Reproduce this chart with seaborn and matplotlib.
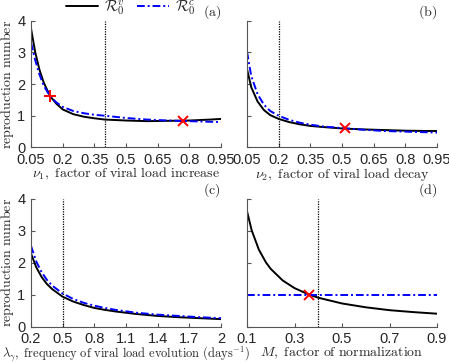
import matplotlib
matplotlib.use("Agg")
import matplotlib.pyplot as plt
import seaborn as sns
from matplotlib.lines import Line2D

sns.set_style("ticks")
plt.rcParams["font.family"] = ["Liberation Sans", "DejaVu Sans"]
plt.rcParams["mathtext.fontset"] = "cm"

# (a) nu1, factor of viral load increase
nu1 = [0.05, 0.07, 0.09, 0.11, 0.14, 0.17, 0.2, 0.25, 0.3, 0.35, 0.4, 0.5, 0.6, 0.7, 0.8, 0.9, 0.95]
a_v = [3.75, 3.0, 2.45, 2.05, 1.62, 1.38, 1.2, 1.05, 0.97, 0.92, 0.88, 0.85, 0.83, 0.84, 0.85, 0.88, 0.9]
a_c = [3.3, 2.75, 2.3, 1.95, 1.62, 1.42, 1.28, 1.15, 1.08, 1.03, 1.0, 0.93, 0.88, 0.85, 0.83, 0.81, 0.8]

# (b) nu2, factor of viral load decay
nu2 = [0.05, 0.07, 0.1, 0.13, 0.16, 0.2, 0.25, 0.3, 0.35, 0.4, 0.5, 0.6, 0.7, 0.8, 0.9, 0.95]
b_v = [2.47, 1.9, 1.45, 1.18, 1.02, 0.9, 0.8, 0.73, 0.68, 0.65, 0.6, 0.57, 0.55, 0.53, 0.52, 0.52]
b_c = [3.02, 2.25, 1.68, 1.35, 1.15, 1.0, 0.87, 0.78, 0.72, 0.67, 0.61, 0.56, 0.52, 0.5, 0.48, 0.47]

# (c) lambda_gamma, frequency of viral load evolution
lam = [0.2, 0.25, 0.3, 0.35, 0.4, 0.5, 0.6, 0.7, 0.8, 0.9, 1.0, 1.2, 1.4, 1.6, 1.8, 2.0]
c_v = [2.28, 1.85, 1.55, 1.33, 1.17, 0.93, 0.78, 0.67, 0.58, 0.52, 0.47, 0.39, 0.33, 0.29, 0.26, 0.23]
c_c = [2.52, 2.03, 1.7, 1.46, 1.28, 1.03, 0.86, 0.74, 0.65, 0.58, 0.52, 0.43, 0.37, 0.33, 0.29, 0.26]

# (d) M, factor of normalization
M = [0.1, 0.12, 0.15, 0.18, 0.2, 0.25, 0.3, 0.36, 0.4, 0.5, 0.6, 0.7, 0.8, 0.9]
d_v = [3.6, 3.0, 2.4, 2.0, 1.8, 1.44, 1.2, 1.0, 0.9, 0.72, 0.6, 0.51, 0.45, 0.4]
M_c = [0.1, 0.9]
d_c = [1.0, 1.0]

panels = [
    dict(x=nu1, v=a_v, xc=nu1, c=a_c, ref=0.4, tag="(a)",
         xlim=(0.05, 0.95), ticks=[0.05, 0.2, 0.35, 0.5, 0.65, 0.8, 0.95],
         ticklabels=["0.05", "0.2", "0.35", "0.5", "0.65", "0.8", "0.95"],
         xlabel=r"$\nu_1\mathrm{,\ factor\ of\ viral\ load\ increase}$", lsize=10,
         plus=[(0.138, 1.62)], cross=[(0.77, 0.84)]),
    dict(x=nu2, v=b_v, xc=nu2, c=b_c, ref=0.2, tag="(b)",
         xlim=(0.05, 0.95), ticks=[0.05, 0.2, 0.35, 0.5, 0.65, 0.8, 0.95],
         ticklabels=["0.05", "0.2", "0.35", "0.5", "0.65", "0.8", "0.95"],
         xlabel=r"$\nu_2\mathrm{,\ factor\ of\ viral\ load\ decay}$", lsize=10,
         plus=[], cross=[(0.515, 0.6)]),
    dict(x=lam, v=c_v, xc=lam, c=c_c, ref=0.5, tag="(c)",
         xlim=(0.2, 2.0), ticks=[0.2, 0.5, 0.8, 1.1, 1.4, 1.7, 2.0],
         ticklabels=["0.2", "0.5", "0.8", "1.1", "1.4", "1.7", "2"],
         xlabel=r"$\lambda_\gamma\mathrm{,\ frequency\ of\ viral\ load\ evolution\ (days}^{-1}\mathrm{)}$",
         lsize=9.0, plus=[], cross=[]),
    dict(x=M, v=d_v, xc=M_c, c=d_c, ref=0.4, tag="(d)",
         xlim=(0.1, 0.9), ticks=[0.1, 0.3, 0.5, 0.7, 0.9],
         ticklabels=["0.1", "0.3", "0.5", "0.7", "0.9"],
         xlabel=r"$M\mathrm{,\ factor\ of\ normalization}$", lsize=10,
         plus=[], cross=[(0.36, 1.0)]),
]

fig = plt.figure(figsize=(4.49, 3.63), dpi=100)
W, H = 449, 363
boxes = [(31, 20.5, 190, 127), (247, 20.5, 190, 127),
         (31, 198.5, 190, 128), (247, 198.5, 190, 128)]
dashdot = (0, (4, 1.5, 1, 1.5))

for i, (p, (l, t, w, h)) in enumerate(zip(panels, boxes)):
    ax = fig.add_axes([l / W, 1 - (t + h) / H, w / W, h / H])
    sns.lineplot(x=p["x"], y=p["v"], ax=ax, color="black", lw=1.4)
    sns.lineplot(x=p["xc"], y=p["c"], ax=ax, color="blue", lw=1.4, linestyle=dashdot)
    ax.axvline(p["ref"], color="black", lw=0.9, linestyle=(0, (1, 1)))
    for (px, py) in p["plus"]:
        ax.plot(px, py, marker="+", color="red", ms=9, mew=1.4)
    for (px, py) in p["cross"]:
        ax.plot(px, py, marker="x", color="red", ms=7, mew=1.4)
    ax.set_xlim(*p["xlim"])
    ax.set_ylim(0, 4)
    ax.set_xticks(p["ticks"])
    ax.set_xticklabels(p["ticklabels"])
    ax.set_yticks([0, 1, 2, 3, 4])
    if i % 2 == 0:
        ax.set_ylabel(r"$\mathrm{reproduction\ number}$", fontsize=10, labelpad=1)
    else:
        ax.set_yticklabels([])
    ax.set_xlabel(p["xlabel"], fontsize=p["lsize"], labelpad=-1)
    ax.tick_params(direction="in", length=3, labelsize=10.5, color="#555555")
    ax.tick_params(axis="x", pad=4)
    ax.tick_params(axis="y", pad=4)
    sns.despine(ax=ax)
    for s in ("left", "bottom"):
        ax.spines[s].set_color("#555555")
        ax.spines[s].set_linewidth(0.8)
    ax.text(1.0, 1.035, r"$\mathrm{%s}$" % p["tag"], transform=ax.transAxes,
            ha="right", va="baseline", fontsize=10)

handles = [Line2D([], [], color="black", lw=1.4),
           Line2D([], [], color="blue", lw=1.4, linestyle=dashdot)]
fig.legend(handles, [r"$\mathcal{R}_0^v$", r"$\mathcal{R}_0^c$"], ncol=2,
           loc="center", bbox_to_anchor=(131 / W, 1 - 8 / H), frameon=False,
           fontsize=11, handlelength=2.1, columnspacing=0.8, handletextpad=0.4,
           borderpad=0)

fig.savefig("out.png", dpi=100)
